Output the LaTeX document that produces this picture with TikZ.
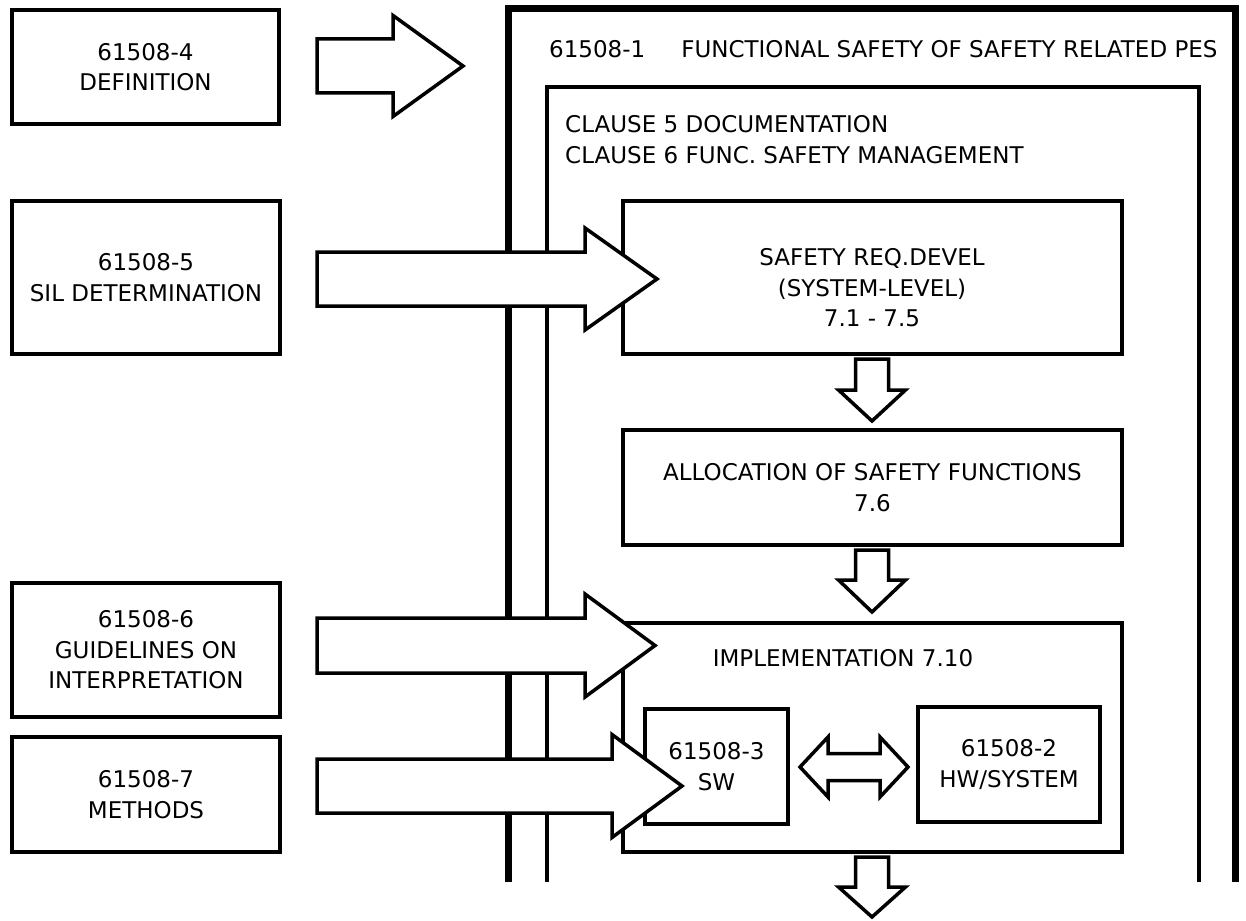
\documentclass[tikz,border=0pt]{standalone}
\usepackage{fontspec}
\setmainfont{DejaVu Sans}
\newcommand{\rbarrow}[6]{\draw[blk] (#1,#2-#5)--(#3,#2-#5)--(#3,#2-#6)--(#4,#2)--(#3,#2+#6)--(#3,#2+#5)--(#1,#2+#5)--cycle;}
\newcommand{\dbarrow}[6]{\draw[blk] (#1-#5,#2)--(#1-#5,#3)--(#1-#6,#3)--(#1,#4)--(#1+#6,#3)--(#1+#5,#3)--(#1+#5,#2)--cycle;}
\begin{document}
\begin{tikzpicture}[x=1pt,y=-1pt,
  font=\fontsize{23}{30.5}\selectfont,
  box/.style={draw, line width=3.5pt, fill=white, align=center, inner sep=0pt},
  txt/.style={inner sep=0pt, align=center},
  blk/.style={draw, line width=3.5pt, fill=white, line join=miter},
  frameout/.style={line width=7pt, line join=miter},
  framein/.style={line width=3.5pt, line join=miter}]
\useasboundingbox[fill=white] (0,0) rectangle (1246,920);

% frames
\draw[frameout] (508,882) -- (508,9) -- (1235,9) -- (1235,882);
\draw[framein] (547,882) -- (547,87) -- (1199,87) -- (1199,882);
\node[txt, anchor=base west] (title) at (549,58) {61508-1\hspace*{36pt}FUNCTIONAL SAFETY OF SAFETY RELATED PES};
\node[txt, anchor=base west] (clause5) at (565,133) {CLAUSE 5 DOCUMENTATION};
\node[txt, anchor=base west] (clause6) at (565,164) {CLAUSE 6 FUNC. SAFETY MANAGEMENT};

% left boxes
\node[box, minimum width=267pt, minimum height=114pt] (def) at (145.5,67) {61508-4\\DEFINITION};
\node[box, minimum width=268pt, minimum height=153pt] (sil) at (146,277.5) {61508-5\\SIL DETERMINATION};
\node[box, minimum width=268pt, minimum height=134pt] (guide) at (146,650) {61508-6\\GUIDELINES ON\\INTERPRETATION};
\node[box, minimum width=268pt, minimum height=115pt] (meth) at (146,794.5) {61508-7\\METHODS};

% inner boxes
\node[box, minimum width=499pt, minimum height=153pt] (sreq) at (872.5,277.5) {};
\node[txt] (sreqtext) at (872,288) {SAFETY REQ.DEVEL\\(SYSTEM-LEVEL)\\7.1 - 7.5};
\node[box, minimum width=499pt, minimum height=115pt] (alloc) at (872.5,487.5) {ALLOCATION OF SAFETY FUNCTIONS\\7.6};
\node[box, minimum width=499pt, minimum height=229pt] (impl) at (872.5,737.5) {};
\node[txt] (impltext) at (843,658) {IMPLEMENTATION 7.10};
\node[box, minimum width=143pt, minimum height=115pt] (sw) at (716.5,766.5) {61508-3\\SW};
\node[box, minimum width=182pt, minimum height=115pt] (hw) at (1009,764.5) {61508-2\\HW/SYSTEM};

% double arrow between SW and HW
\draw[blk] (800,767)--(828,737)--(828,753.5)--(880,753.5)--(880,737)--(908,767)--(880,797)--(880,780.5)--(828,780.5)--(828,797)--cycle;

% down arrows
\dbarrow{872}{359}{390}{421}{16.5}{33.5}
\dbarrow{872}{550}{580}{612}{16.5}{33.5}
\dbarrow{872}{857}{887}{917}{16.5}{33.5}

% right block arrows
\rbarrow{317}{66}{393}{463}{27}{50.5}
\rbarrow{317}{279}{585}{657}{27}{51}
\rbarrow{317}{645.5}{585}{655}{27.5}{51.5}
\rbarrow{317}{786}{612}{682}{27}{51.5}
\end{tikzpicture}
\end{document}
